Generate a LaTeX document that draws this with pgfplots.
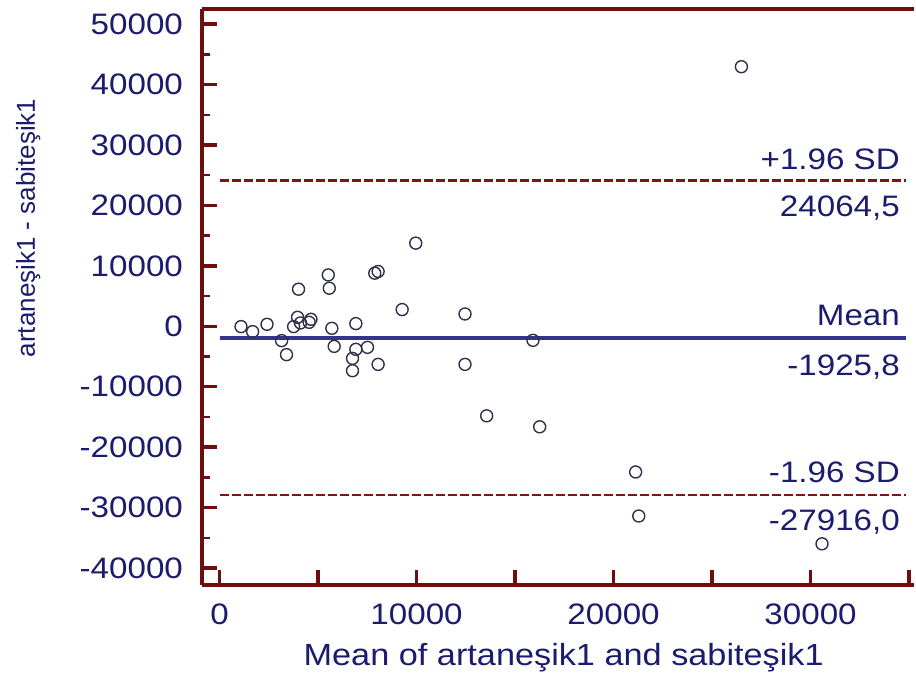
\documentclass[border=0pt]{standalone}
\usepackage{pgfplots}
\pgfplotsset{compat=1.18}
\usepackage{fontspec}
\setmainfont{Liberation Sans}[FakeStretch=1.12]
\newfontfamily\ylfont{Liberation Sans}
\definecolor{framec}{HTML}{6E0E0E}
\definecolor{txt}{HTML}{1C1C6E}
\definecolor{meanc}{HTML}{34348E}
\definecolor{sdc}{HTML}{7E1515}
\definecolor{mk}{HTML}{30304A}
\begin{document}
\begin{tikzpicture}
\path[use as bounding box] (-101pt,-52pt) rectangle (357pt,292.5pt);
\begin{axis}[
  scale only axis, width=356pt, height=288pt,
  xmin=-890, xmax=35250, ymin=-42800, ymax=52500,
  scaled x ticks=false, scaled y ticks=false,
  axis x line*=box, axis y line*=left,
  xtick pos=bottom, ytick pos=left,
  axis line style={framec, line width=1.8pt},
  tick align=inside,
  major tick length=7.5pt, minor tick length=4pt,
  every tick/.style={framec},
  every major tick/.append style={line width=1.7pt},
  every minor tick/.append style={line width=1.2pt},
  xtick={0,5000,...,35000},
  xticklabels={0,,10000,,20000,,30000,},
  ytick={-40000,-30000,...,50000},
  yticklabels={-40000,-30000,-20000,-10000,0,10000,20000,30000,40000,50000},
  minor ytick={-35000,-25000,...,45000},
  ticklabel style={txt, font=\fontsize{14.8}{17}\selectfont},
  yticklabel style={xshift=-6pt},
  xticklabel style={yshift=-6pt},
  xlabel={Mean of artaneşik1 and sabiteşik1},
  ylabel={artaneşik1 - sabiteşik1},
  xlabel style={txt, font=\fontsize{15.3}{17}\selectfont, at={(axis description cs:0.508,-0.127)}, anchor=center},
  ylabel style={txt, font=\ylfont\fontsize{13}{15}\selectfont, at={(axis description cs:-0.244,0.62)}, anchor=center, rotate=0},
  clip=false,
]
\addplot[only marks, mark=o, mark size=3pt, mk, mark options={line width=0.7pt}] coordinates {
(1090,-50) (1680,-880) (2410,330) (3150,-2370) (3400,-4690) (3760,-50)
(3960,1490) (4010,6140) (4110,550) (4640,1160) (4550,660) (5520,8500)
(5570,6300) (5700,-330) (5820,-3320) (6920,450) (6920,-3810) (6750,-5310)
(6750,-7350) (7510,-3480) (7880,8790) (8050,9070) (8050,-6300) (9270,2770)
(9960,13760) (12460,2040) (15910,-2320) (12460,-6300) (13560,-14810)
(16250,-16630) (21120,-24100) (21280,-31390) (26490,42950) (30580,-35990)
};
\addplot[meanc, line width=1.8pt] coordinates {(0,-1925.8) (34850,-1925.8)};
\addplot[sdc, line width=1.4pt, dash pattern=on 4.5pt off 1.5pt] coordinates {(0,24064.5) (34850,24064.5)};
\addplot[sdc, line width=1.4pt, dash pattern=on 4.5pt off 1.5pt] coordinates {(0,-27916.0) (34850,-27916.0)};
\tikzset{lab/.style={inner sep=0pt, txt, font=\fontsize{14.8}{17}\selectfont}}
\node[lab, anchor=base east, yshift=5.5pt] at (axis cs:34550,24064.5) {+1.96 SD};
\node[lab, anchor=north east, yshift=-7.5pt] at (axis cs:34550,24064.5) {24064,5};
\node[lab, anchor=base east, yshift=6pt] at (axis cs:34550,-1925.8) {Mean};
\node[lab, anchor=north east, yshift=-8pt] at (axis cs:34550,-1925.8) {-1925,8};
\node[lab, anchor=base east, yshift=6.5pt] at (axis cs:34550,-27916.0) {-1.96 SD};
\node[lab, anchor=north east, yshift=-7pt] at (axis cs:34550,-27916.0) {-27916,0};
\end{axis}
\end{tikzpicture}
\end{document}
